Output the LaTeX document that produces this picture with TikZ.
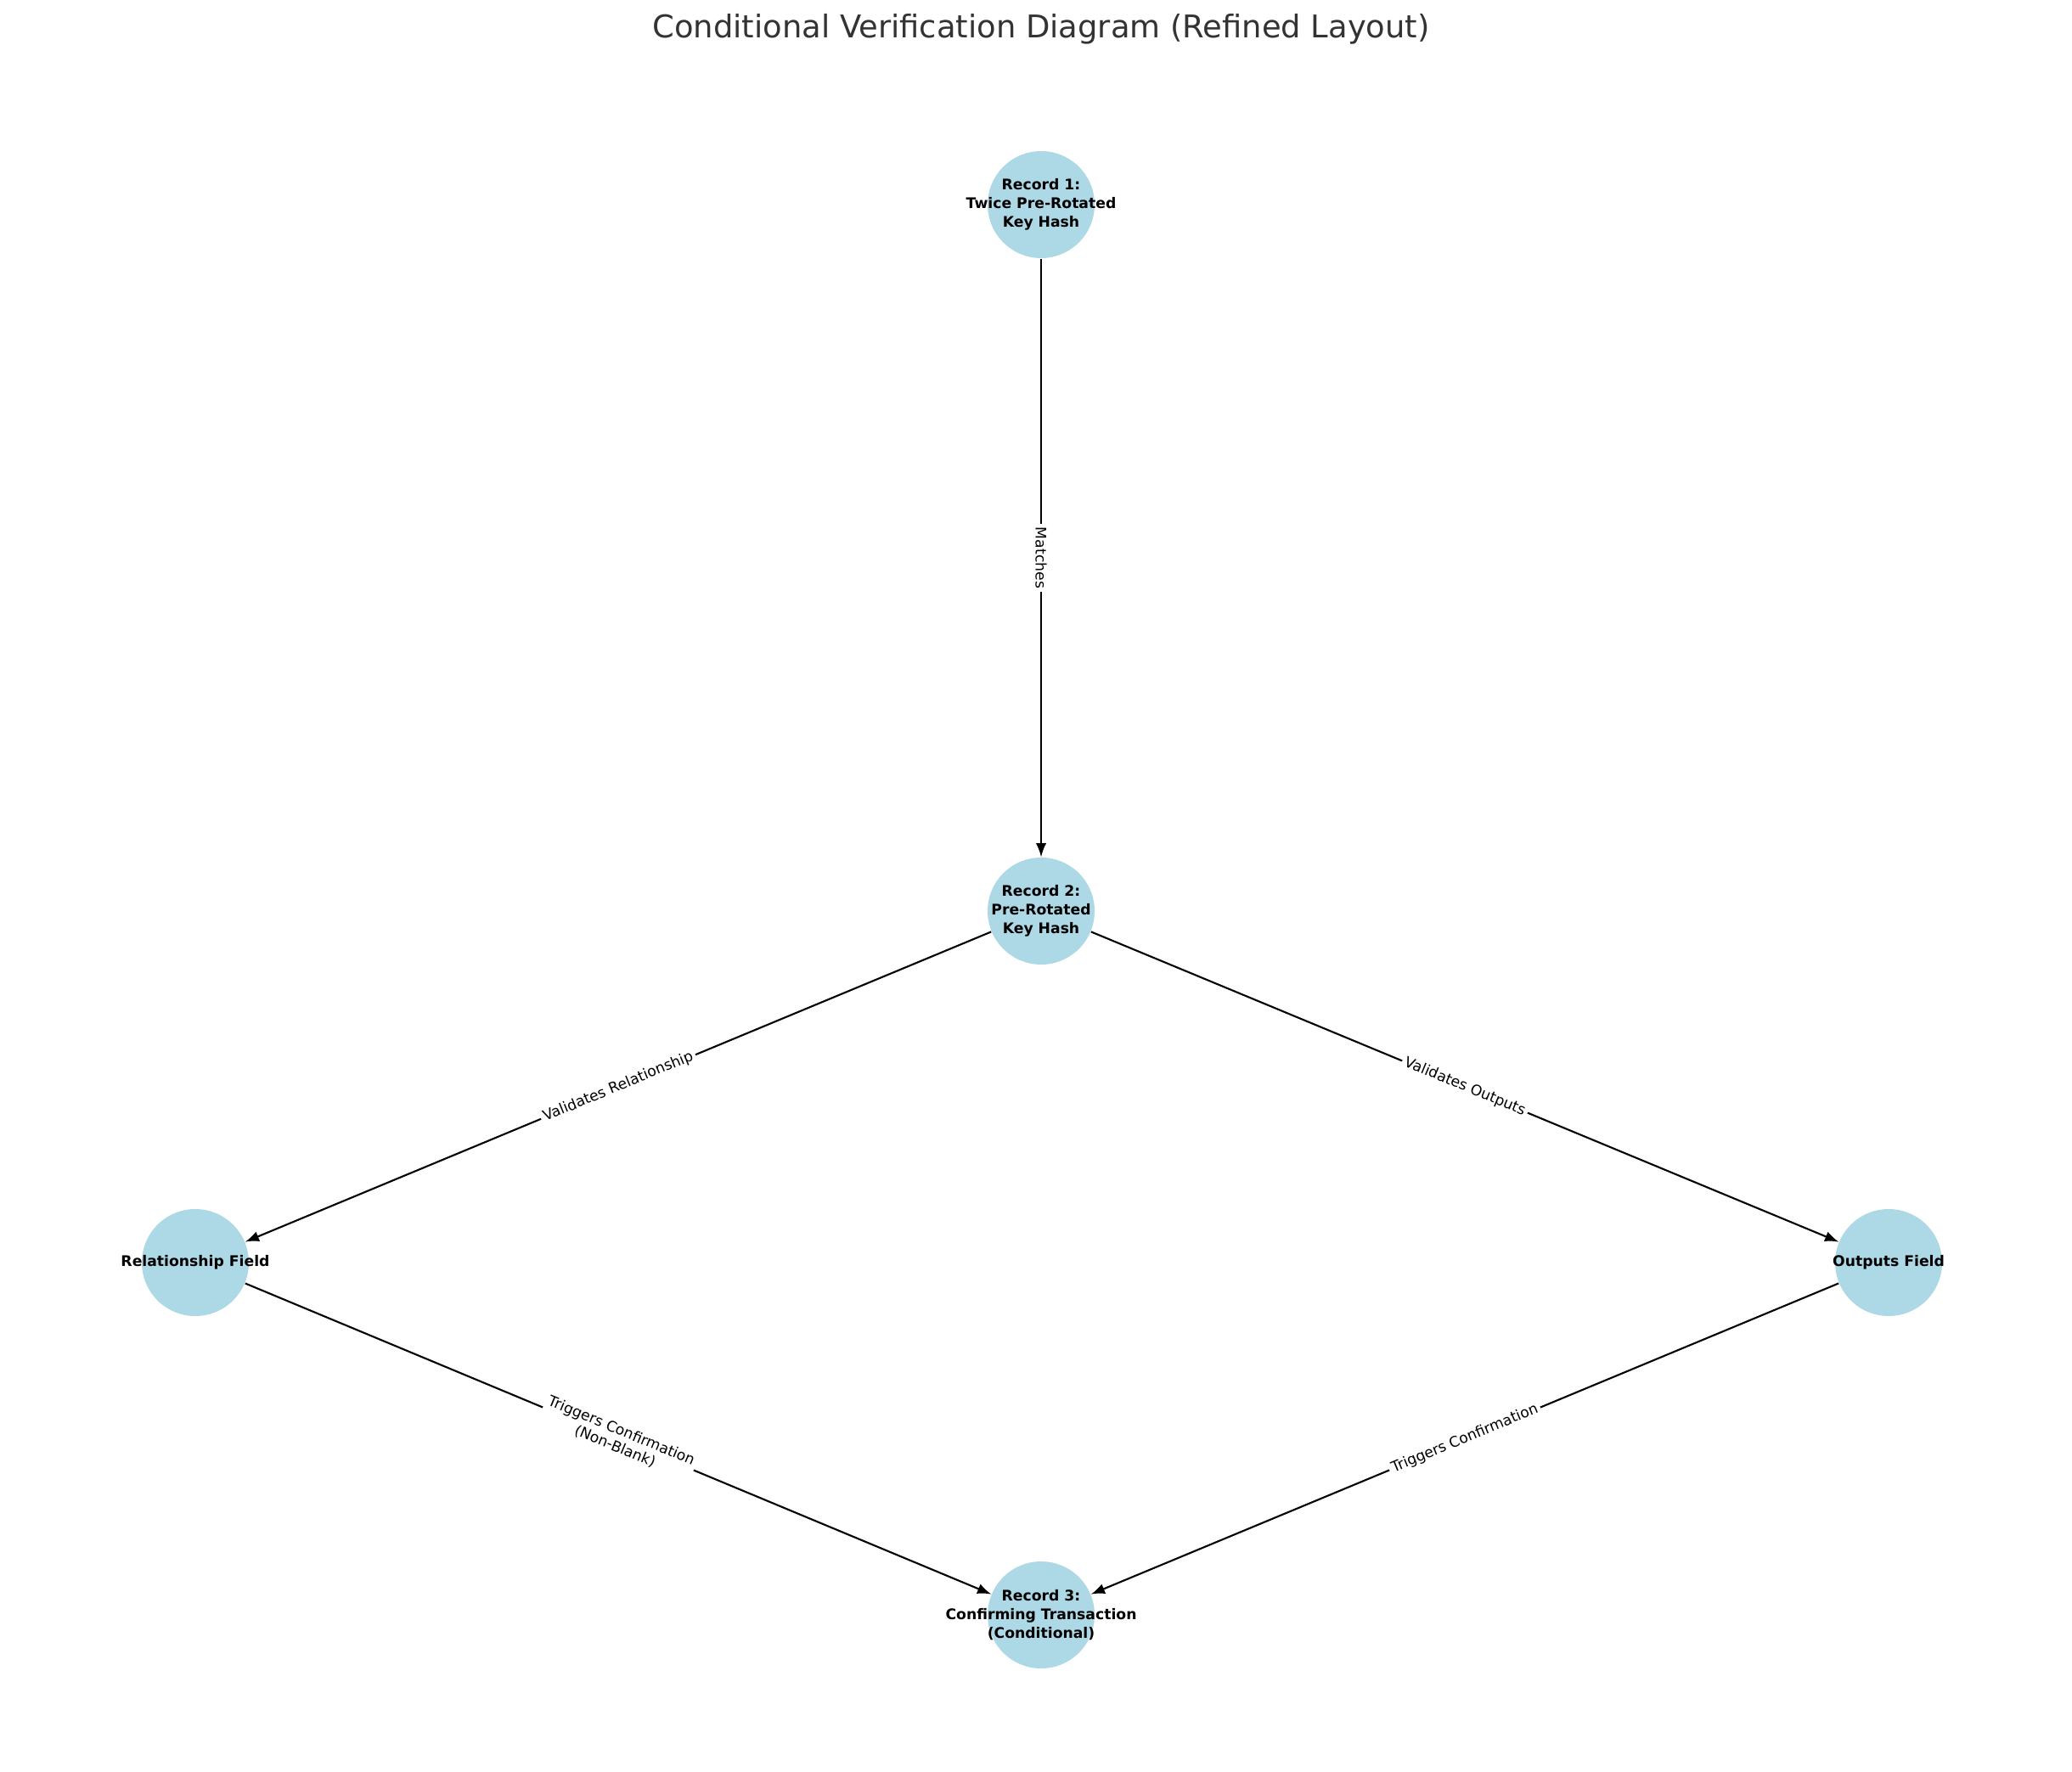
\documentclass[tikz,border=0pt]{standalone}
\usepackage{fontspec}
\setmainfont{DejaVu Sans}
\usetikzlibrary{arrows}
\definecolor{nodeblue}{RGB}{173,216,230}
\tikzstyle{rec} = [circle, minimum size=1.26cm, inner sep=0pt, fill=nodeblue]
\tikzstyle{rectext} = [align=center, font=\fontsize{4.9}{6.3}\selectfont\bfseries]
\tikzstyle{lbl} = [fill=white, inner sep=1pt, sloped, align=center, font=\fontsize{4.9}{5.6}\selectfont]
\tikzstyle{arrow} = [semithick,->,>=latex]
\begin{document}
\begin{tikzpicture}
\useasboundingbox (0,0) rectangle (24.4,20.86);
\node (title) at (12.26,20.52) {\fontsize{10.5}{12}\selectfont\color{black!80}Conditional Verification Diagram (Refined Layout)};

\node (recA)[rec] at (12.26,18.45) {};
\node[rectext] at (recA) {Record 1:\\Twice Pre-Rotated\\Key Hash};
\node (recB)[rec] at (12.26,10.13) {};
\node[rectext] at (recB) {Record 2:\\Pre-Rotated\\Key Hash};
\node (relField)[rec] at (2.30,5.99) {};
\node[rectext] at (relField) {Relationship Field};
\node (outField)[rec] at (22.24,5.99) {};
\node[rectext] at (outField) {Outputs Field};
\node (recC)[rec] at (12.26,1.84) {};
\node[rectext] at (recC) {Record 3:\\Confirming Transaction\\(Conditional)};

\draw [arrow](recA) -- node[lbl]{Matches} (recB);
\draw [arrow](recB) -- node[lbl]{Validates Relationship} (relField);
\draw [arrow](recB) -- node[lbl]{Validates Outputs} (outField);
\draw [arrow](relField) -- node[lbl]{Triggers Confirmation\\(Non-Blank)} (recC);
\draw [arrow](outField) -- node[lbl]{Triggers Confirmation} (recC);
\end{tikzpicture}
\end{document}
